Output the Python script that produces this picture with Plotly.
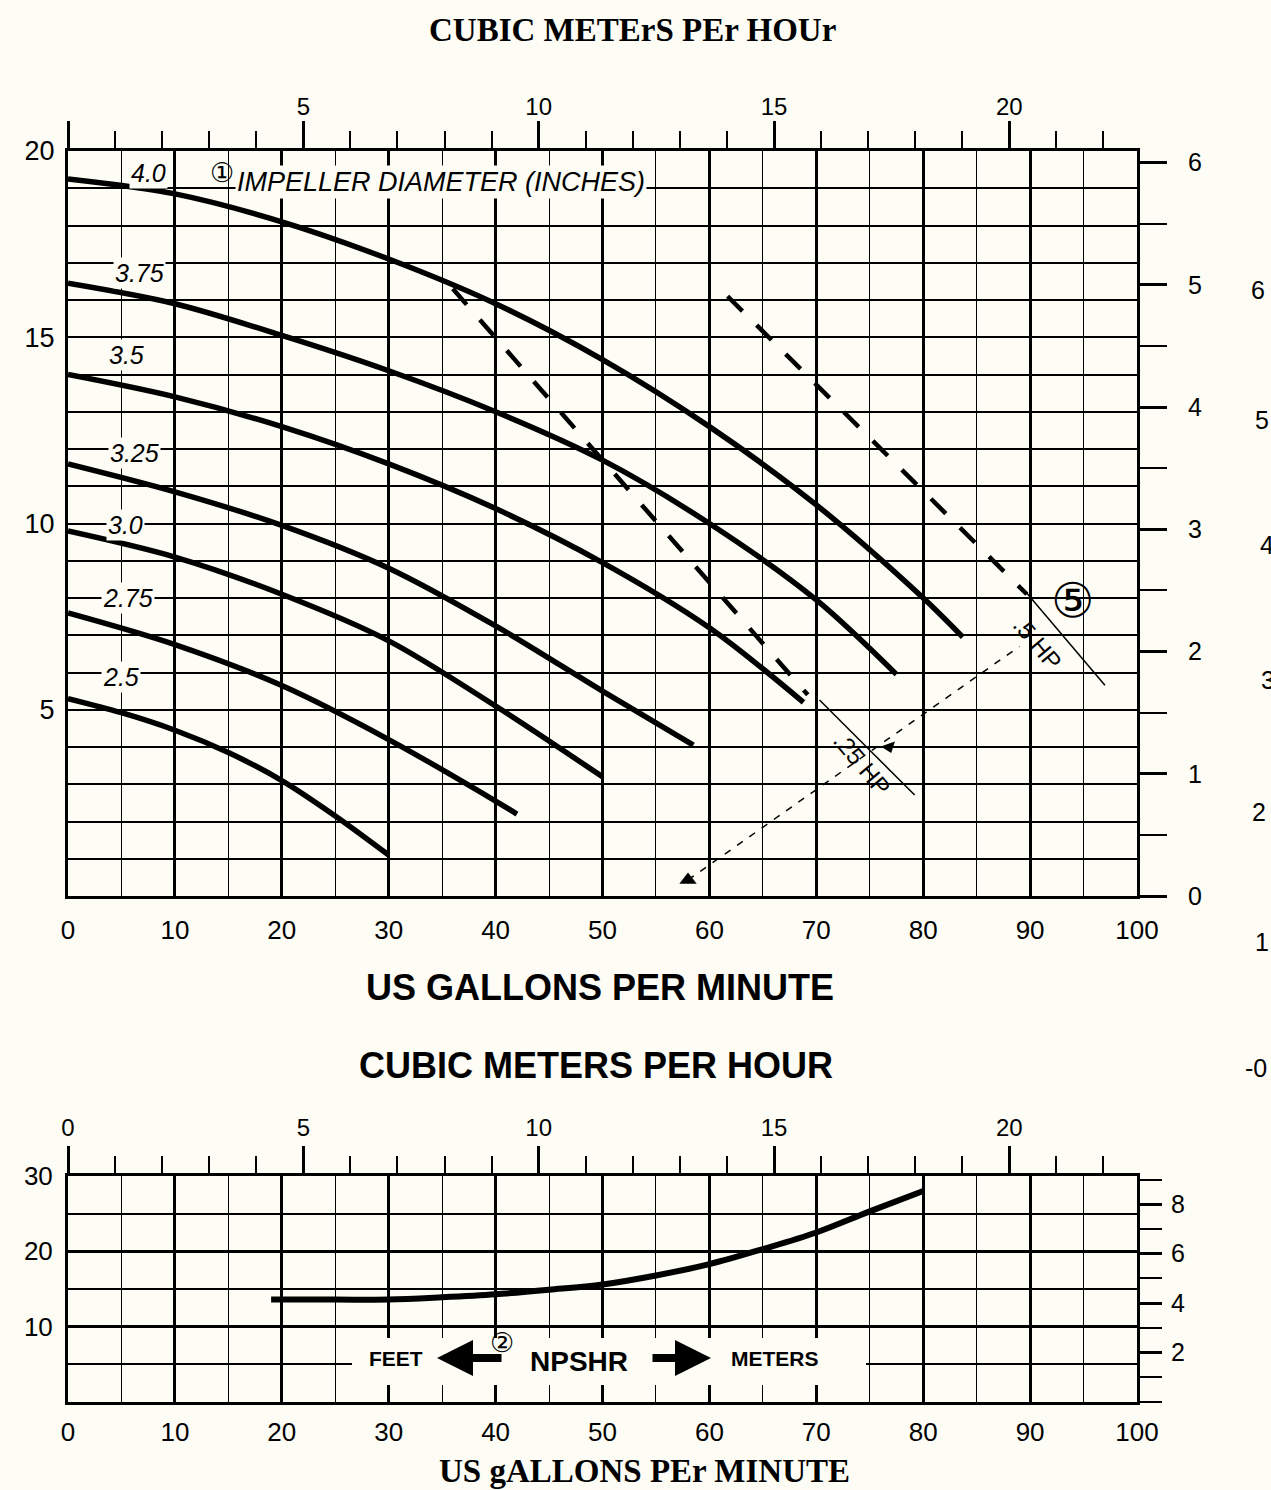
import plotly.graph_objects as go

W, H = 1271, 1490
BG = "#fdfdf5"
SANS = "Liberation Sans, Arial, Helvetica, sans-serif"
SERIF = "Liberation Serif, Times New Roman, serif"
CIRC = "DejaVu Sans, Noto Sans CJK JP, sans-serif"

# ---------------- data ----------------
# Head (ft) vs flow (US gpm) for each impeller diameter (inches)
imp_40_q = [0, 10, 20, 30, 40, 50, 60, 70, 80, 83.7]
imp_40_h = [19.25, 18.85, 18.1, 17.1, 15.9, 14.4, 12.6, 10.5, 8.0, 6.95]

imp_375_q = [0, 10, 20, 30, 40, 50, 60, 70, 77.5]
imp_375_h = [16.45, 15.9, 15.05, 14.1, 13.0, 11.7, 10.0, 7.95, 5.95]

imp_35_q = [0, 10, 20, 30, 40, 50, 60, 68.8]
imp_35_h = [14.0, 13.4, 12.6, 11.6, 10.4, 8.95, 7.2, 5.2]

imp_325_q = [0, 10, 20, 30, 40, 50, 58.5]
imp_325_h = [11.6, 10.85, 9.95, 8.8, 7.25, 5.5, 4.05]

imp_30_q = [0, 10, 20, 30, 40, 50]
imp_30_h = [9.8, 9.1, 8.1, 6.85, 5.1, 3.2]

imp_275_q = [0, 10, 20, 30, 40, 42]
imp_275_h = [7.6, 6.75, 5.65, 4.2, 2.55, 2.2]

imp_25_q = [0, 5, 10, 15, 20, 25, 30]
imp_25_h = [5.3, 4.92, 4.45, 3.85, 3.1, 2.15, 1.1]

impellers = [
    (imp_40_q, imp_40_h), (imp_375_q, imp_375_h), (imp_35_q, imp_35_h),
    (imp_325_q, imp_325_h), (imp_30_q, imp_30_h), (imp_275_q, imp_275_h),
    (imp_25_q, imp_25_h),
]
imp_labels = ["4.0", "3.75", "3.5", "3.25", "3.0", "2.75", "2.5"]

# horsepower limit lines (gpm, ft)
hp025_q = [36.0, 69.2]
hp025_h = [16.3, 5.4]
hp05_q = [61.7, 89.7]
hp05_h = [16.1, 8.1]
hp025_tail_q = [70.3, 79.2]
hp025_tail_h = [5.26, 2.71]
hp05_tail_q = [89.7, 97.0]
hp05_tail_h = [8.13, 5.66]
guide_q = [58.0, 89.0]
guide_h = [0.43, 6.7]
tri_up_q, tri_up_h = [58.0], [0.43]
tri_dn_q, tri_dn_h = [76.8], [4.0]

# NPSHR (ft) vs flow (gpm)
npsh_q = [19, 25, 30, 35, 40, 45, 50, 55, 60, 65, 70, 75, 80]
npsh_h = [13.6, 13.6, 13.6, 13.9, 14.3, 14.9, 15.6, 16.8, 18.3, 20.3, 22.5, 25.3, 28.0]

# axis tick values
gpm_range = [0, 100]
cmh_ticks = [0, 5, 10, 15, 20]
cmh_top_text = ["", "5", "10", "15", "20"]
cmh_bot_text = ["0", "5", "10", "15", "20"]
ft_top_ticks = [5, 10, 15, 20]
m_top_ticks = [0, 1, 2, 3, 4, 5, 6]
ft_bot_ticks = [10, 20, 30]
m_bot_ticks = [2, 4, 6, 8]
stray_labels = ["6", "5", "4", "3", "2", "1", "-0"]
GPM_PER_CMH = 4.40287
FT_PER_M = 3.28084
head_top_max = 20
head_bot_max = 30

# ---------------- figure ----------------
fig = go.Figure()


def P(px, py):
    return px / W, 1 - py / H


XD = [68 / W, 1137 / W]
YD_TOP = [1 - 896 / H, 1 - 151 / H]
YD_BOT = [1 - 1402 / H, 1 - 1176 / H]

for q, h in impellers:
    fig.add_trace(go.Scatter(x=q, y=h, mode="lines", xaxis="x", yaxis="y",
                             line=dict(color="black", width=5.5, shape="spline", smoothing=0.9),
                             showlegend=False, hoverinfo="skip"))

for q, h in [(hp025_q, hp025_h), (hp05_q, hp05_h)]:
    fig.add_trace(go.Scatter(x=q, y=h, mode="lines", xaxis="x", yaxis="y",
                             line=dict(color="black", width=4.5, dash="21px,20px"),
                             showlegend=False, hoverinfo="skip"))
for q, h in [(hp025_tail_q, hp025_tail_h), (hp05_tail_q, hp05_tail_h)]:
    fig.add_trace(go.Scatter(x=q, y=h, mode="lines", xaxis="x", yaxis="y",
                             line=dict(color="black", width=1.5),
                             showlegend=False, hoverinfo="skip"))
fig.add_trace(go.Scatter(x=guide_q, y=guide_h, mode="lines", xaxis="x", yaxis="y",
                         line=dict(color="black", width=1.5, dash="7px,8px"),
                         showlegend=False, hoverinfo="skip"))
fig.add_trace(go.Scatter(x=tri_up_q, y=tri_up_h, mode="markers", xaxis="x", yaxis="y",
                         marker=dict(symbol="triangle-up", size=15, color="black"),
                         showlegend=False, hoverinfo="skip"))
fig.add_trace(go.Scatter(x=tri_dn_q, y=tri_dn_h, mode="markers", xaxis="x", yaxis="y",
                         marker=dict(symbol="triangle-down", size=13, color="black", angle=-20),
                         showlegend=False, hoverinfo="skip"))

fig.add_trace(go.Scatter(x=npsh_q, y=npsh_h, mode="lines", xaxis="x3", yaxis="y3",
                         line=dict(color="black", width=6, shape="spline"),
                         showlegend=False, hoverinfo="skip"))

# empty traces so the secondary axes are drawn
for xa, ya in [("x2", "y2"), ("x4", "y4")]:
    fig.add_trace(go.Scatter(x=[None], y=[None], xaxis=xa, yaxis=ya, mode="lines",
                             showlegend=False, hoverinfo="skip"))

K = "black"


def gpm_axis(anchor, standoff):
    return dict(domain=XD, anchor=anchor, range=gpm_range, dtick=10, tick0=0,
                showgrid=True, gridcolor=K, gridwidth=2.6,
                minor=dict(dtick=5, tick0=0, showgrid=True, gridcolor=K, gridwidth=1.4),
                showline=True, linecolor=K, linewidth=3, ticks="", zeroline=False,
                tickfont=dict(family=SANS, size=26, color=K), ticklabelstandoff=standoff,
                fixedrange=True)


def cmh_axis(over, anchor, text, standoff):
    return dict(overlaying=over, anchor=anchor, side="top",
                range=[gpm_range[0] / GPM_PER_CMH, gpm_range[1] / GPM_PER_CMH],
                tickmode="array", tickvals=cmh_ticks, ticktext=text,
                ticks="outside", ticklen=27, tickwidth=3, tickcolor=K,
                minor=dict(dtick=1, tick0=0, ticks="outside", ticklen=17, tickwidth=2,
                           tickcolor=K, showgrid=False),
                showgrid=False, showline=True, linecolor=K, linewidth=3, zeroline=False,
                tickfont=dict(family=SANS, size=24, color=K), ticklabelstandoff=standoff,
                fixedrange=True)


fig.update_layout(
    width=W, height=H, margin=dict(l=0, r=0, t=0, b=0, pad=0, autoexpand=False),
    paper_bgcolor=BG, plot_bgcolor=BG, showlegend=False,
    xaxis=gpm_axis("y", 9),
    yaxis=dict(domain=YD_TOP, anchor="x", range=[0, head_top_max],
               tickmode="array", tickvals=ft_top_ticks,
               showgrid=True, gridcolor=K, gridwidth=2.2,
               minor=dict(dtick=1, tick0=0, showgrid=True, gridcolor=K, gridwidth=1.5),
               showline=True, linecolor=K, linewidth=3, ticks="", zeroline=False,
               tickfont=dict(family=SANS, size=27, color=K), ticklabelstandoff=5,
               fixedrange=True),
    xaxis2=cmh_axis("x", "y", cmh_top_text, -4),
    yaxis2=dict(overlaying="y", anchor="x", side="right",
                range=[0, head_top_max / FT_PER_M], tickmode="array", tickvals=m_top_ticks,
                ticks="outside", ticklen=27, tickwidth=2.5, tickcolor=K,
                minor=dict(dtick=0.5, tick0=0, ticks="outside", ticklen=27, tickwidth=2,
                           tickcolor=K, showgrid=False),
                showgrid=False, showline=True, linecolor=K, linewidth=3, zeroline=False,
                tickfont=dict(family=SANS, size=25, color=K), ticklabelstandoff=16,
                fixedrange=True),
    xaxis3=gpm_axis("y3", 5),
    yaxis3=dict(domain=YD_BOT, anchor="x3", range=[0, head_bot_max],
                tickmode="array", tickvals=ft_bot_ticks,
                showgrid=True, gridcolor=K, gridwidth=2.6,
                minor=dict(dtick=5, tick0=0, showgrid=True, gridcolor=K, gridwidth=1.5),
                showline=True, linecolor=K, linewidth=3, ticks="", zeroline=False,
                tickfont=dict(family=SANS, size=26, color=K), ticklabelstandoff=7,
                fixedrange=True),
    xaxis4=cmh_axis("x3", "y3", cmh_bot_text, 0),
    yaxis4=dict(overlaying="y3", anchor="x3", side="right",
                range=[0, head_bot_max / FT_PER_M], tickmode="array", tickvals=m_bot_ticks,
                ticks="outside", ticklen=22, tickwidth=2.5, tickcolor=K,
                minor=dict(dtick=1, tick0=0, ticks="outside", ticklen=22, tickwidth=2,
                           tickcolor=K, showgrid=False),
                showgrid=False, showline=True, linecolor=K, linewidth=3, zeroline=False,
                tickfont=dict(family=SANS, size=25, color=K), ticklabelstandoff=4,
                fixedrange=True),
)

# blank area behind the NPSHR legend (covers the grid; the curve lies above it)
x0, y1 = P(352, 1338)
x1, y0 = P(866, 1385)
fig.add_shape(type="rect", xref="paper", yref="paper", x0=x0, x1=x1, y0=y0, y1=y1,
              fillcolor=BG, line=dict(width=0), layer="above")

ann = []


def text(px, py, s, size, family=SANS, bg=None, xanchor="center", angle=0):
    x, y = P(px, py)
    d = dict(x=x, y=y, xref="paper", yref="paper", text=s, showarrow=False,
             font=dict(family=family, size=size, color=K), xanchor=xanchor,
             yanchor="middle", textangle=angle)
    if bg:
        d.update(bgcolor=bg, borderpad=1)
    ann.append(d)


# titles
text(632, 30, "<b>CUBIC METErS PEr HOUr</b>", 33, SERIF)
text(600, 988, "<b>US GALLONS PER MINUTE</b>", 36)
text(596, 1065, "<b>CUBIC METERS PER HOUR</b>", 36)
text(644, 1471, "<b>US gALLONS PEr MINUTE</b>", 33, SERIF)

# impeller labels
lab_pos = [(148, 173), (139, 273), (127, 355), (134, 453), (125, 525), (128, 598), (121, 677)]
for (px, py), s in zip(lab_pos, imp_labels):
    text(px, py, "<i>%s</i>" % s, 25, bg=BG)
text(235, 182, "<i>IMPELLER DIAMETER (INCHES)</i>", 27, bg=BG, xanchor="left")
text(222, 172, "①", 27, family=CIRC)

# HP annotations
text(1072, 600, "⑤", 48, family=CIRC)
text(1038, 643, ".5 HP", 24, angle=50)
text(862, 763, ".25 HP", 24, angle=50)

# NPSHR legend
text(396, 1358, "<b>FEET</b>", 21)
text(502, 1342, "②", 27, family=CIRC)
text(579, 1361, "<b>NPSHR</b>", 28)
text(775, 1358, "<b>METERS</b>", 21)
for tip, tail in [((437, 1358), (503, 1358)), ((711, 1358), (651, 1358))]:
    x, y = P(*tip)
    ann.append(dict(x=x, y=y, xref="paper", yref="paper", text="", showarrow=True,
                    ax=tail[0] - tip[0], ay=tail[1] - tip[1], arrowhead=2,
                    arrowsize=0.9, arrowwidth=8, arrowcolor=K, standoff=0,
                    startstandoff=0))

# stray right-edge scale (partly cut by the page edge, as in the original)
stray_pos = [(1258, 290), (1262, 420), (1267, 545), (1268, 680), (1259, 812), (1262, 942),
             (1256, 1068)]
for (px, py), s in zip(stray_pos, stray_labels):
    text(px, py, s, 25)

fig.update_layout(annotations=ann)
fig.write_html(
    "out.html",
    config={"displayModeBar": False},
    post_script="document.body.style.margin='0px';document.body.style.padding='0px';"
                "document.body.style.overflow='hidden';",
)
